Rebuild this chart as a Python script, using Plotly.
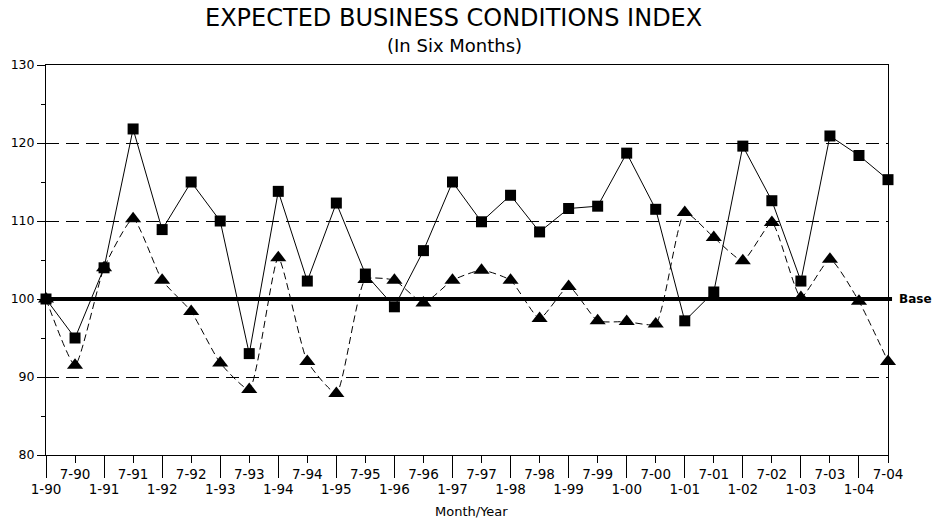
import plotly.graph_objects as go

periods = ["1-90","7-90","1-91","7-91","1-92","7-92","1-93","7-93","1-94","7-94",
           "1-95","7-95","1-96","7-96","1-97","7-97","1-98","7-98","1-99","7-99",
           "1-00","7-00","1-01","7-01","1-02","7-02","1-03","7-03","1-04","7-04"]
square_series = [100.0, 95.0, 104.0, 121.8, 108.9, 115.0, 110.0, 93.0, 113.8, 102.3,
                 112.3, 103.2, 99.0, 106.2, 115.0, 109.9, 113.3, 108.6, 111.6, 111.9,
                 118.7, 111.5, 97.2, 100.9, 119.6, 112.6, 102.3, 120.9, 118.4, 115.3]
triangle_series = [100.0, 91.5, 104.0, 110.3, 102.4, 98.4, 91.8, 88.4, 105.3, 92.0,
                   87.9, 102.5, 102.4, 99.5, 102.4, 103.7, 102.4, 97.5, 101.6, 97.2,
                   97.1, 96.8, 111.1, 107.9, 104.9, 109.8, 100.2, 105.1, 99.7, 92.0]
base_value = 100
y_ticks = [80, 90, 100, 110, 120, 130]

title_text = "EXPECTED BUSINESS CONDITIONS INDEX"
subtitle_text = "(In Six Months)"
x_title_text = "Month/Year"
base_text = "Base"

idx = list(range(len(periods)))
jan_idx = [i for i in idx if periods[i].startswith("1-")]
jul_idx = [i for i in idx if periods[i].startswith("7-")]

FONT = "DejaVu Sans"
fig = go.Figure()

fig.add_trace(go.Scatter(
    x=idx, y=triangle_series, mode="lines+markers",
    line=dict(color="black", width=1, dash="7px,4px", shape="spline", smoothing=0.5),
    marker=dict(symbol="triangle-up", size=14, color="black"),
    cliponaxis=False, showlegend=False, xaxis="x2"))
fig.add_trace(go.Scatter(
    x=idx, y=square_series, mode="lines+markers",
    line=dict(color="black", width=1),
    marker=dict(symbol="square", size=11, color="black"),
    cliponaxis=False, showlegend=False))

fig.add_shape(type="line", xref="paper", yref="y", x0=0, x1=1.0048,
              y0=base_value, y1=base_value, line=dict(color="black", width=4), layer="above")
fig.add_annotation(xref="paper", yref="y", x=1.0119, y=base_value, text="<b>" + base_text + "</b>",
                   showarrow=False, xanchor="left", yanchor="middle", borderpad=0,
                   font=dict(family=FONT, size=12, color="black"))
fig.add_annotation(xref="paper", yref="paper", x=0.4834, y=1.1205, text=title_text,
                   showarrow=False, xanchor="center", yanchor="middle", borderpad=0,
                   font=dict(family=FONT, size=24, color="black"))
fig.add_annotation(xref="paper", yref="paper", x=0.4846, y=1.05, text=subtitle_text,
                   showarrow=False, xanchor="center", yanchor="middle",
                   font=dict(family=FONT, size=18, color="black"))
fig.add_annotation(xref="paper", yref="paper", x=0.505, y=-0.1436, text=x_title_text,
                   showarrow=False, xanchor="center", yanchor="middle",
                   font=dict(family=FONT, size=13, color="black"))

fig.update_layout(
    width=939, height=520,
    margin=dict(l=46, r=51, t=65, b=65),
    paper_bgcolor="white", plot_bgcolor="white",
    font=dict(family=FONT, color="black"),
    xaxis=dict(range=[0, len(periods) - 1], tickvals=jan_idx,
               ticktext=[periods[i] for i in jan_idx],
               ticks="outside", ticklen=22, tickwidth=1, tickcolor="black",
               showline=True, linecolor="black", linewidth=1, mirror=True,
               showgrid=False, zeroline=False, automargin=False,
               tickfont=dict(family=FONT, size=13.5, color="black")),
    xaxis2=dict(range=[0, len(periods) - 1], overlaying="x", anchor="y", side="bottom",
                tickvals=jul_idx, ticktext=[periods[i] for i in jul_idx],
                ticks="outside", ticklen=7, tickwidth=1, tickcolor="black",
                showline=False, showgrid=False, zeroline=False, automargin=False,
                tickfont=dict(family=FONT, size=13.5, color="black")),
    yaxis=dict(range=[80, 130], tickvals=y_ticks, ticks="outside", ticklen=8,
               tickwidth=1, tickcolor="black",
               showline=True, linecolor="black", linewidth=1, mirror=True,
               showgrid=True, gridcolor="black", gridwidth=1, griddash="13px,7px",
               zeroline=False, automargin=False,
               minor=dict(dtick=5, tick0=80, ticks="outside", ticklen=4, tickcolor="black", showgrid=False),
               tickfont=dict(family=FONT, size=12.5, color="black")),
)

fig.write_html("out.html", config={"displayModeBar": False},
               post_script="document.body.style.margin='0';")
